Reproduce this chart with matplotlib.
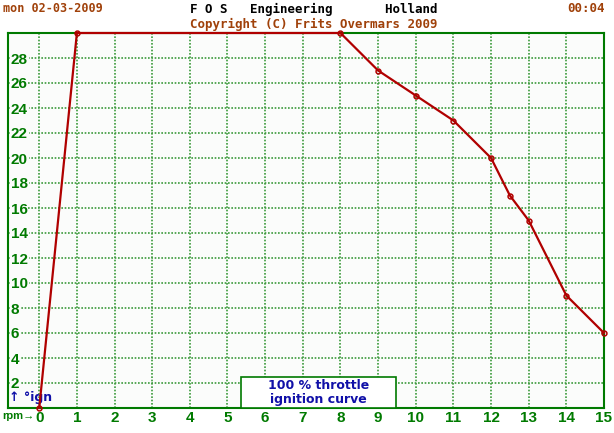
import numpy as np
import matplotlib
matplotlib.use('Agg')
import matplotlib.pyplot as plt
from matplotlib.patches import Rectangle

rpm = [0, 1, 8, 9, 10, 11, 12, 12.5, 13, 14, 15]
ign = [0, 30, 30, 27, 25, 23, 20, 17, 15, 9, 6]
x_ticks = list(range(0, 16))
y_ticks = list(range(2, 30, 2))

green = '#007a00'
grid_green = '#3c9a3c'
red = '#b00000'
brown = '#a0410a'
blue = '#1010a8'

fig = plt.figure(figsize=(6.14, 4.33), dpi=100)
fig.patch.set_facecolor('white')
ax = fig.add_axes([8 / 614, 25 / 433, 596 / 614, 375 / 433])
ax.set_facecolor('#fbfcfb')

ax.set_xlim(-0.83, 15)
ax.set_ylim(0, 30)

ax.set_xticks(x_ticks)
ax.set_yticks(y_ticks)
ax.grid(True, color=grid_green, linestyle=(0, (1, 1)), linewidth=1.2)
ax.set_axisbelow(True)

ax.tick_params(axis='x', length=0, pad=2, colors=green)
ax.tick_params(axis='y', length=0, pad=-2, colors=green)
for lab in ax.get_xticklabels():
    lab.set_fontweight('bold')
    lab.set_fontsize(11)
    lab.set_fontfamily('Liberation Sans')
for lab in ax.get_yticklabels():
    lab.set_horizontalalignment('left')
    lab.set_fontweight('bold')
    lab.set_fontsize(11)
    lab.set_fontfamily('Liberation Sans')
    lab.set_bbox(dict(facecolor='#fbfcfb', edgecolor='none', pad=0.5))

for s in ax.spines.values():
    s.set_color(green)
    s.set_linewidth(1.5)

# curve
ax.plot(rpm, ign, color=red, lw=1.6, marker='o', ms=3.5, mfc='none',
        mew=1.1, clip_on=False, zorder=5)

# info box
ax.add_patch(Rectangle((5.37, 0), 4.1, 2.47, facecolor='white',
                       edgecolor=green, lw=1.2, zorder=3))
ax.text(7.42, 1.25, '100 % throttle\nignition curve', ha='center',
        va='center', color=blue, fontsize=9, fontweight='bold',
        linespacing=1.05, zorder=4)

ax.text(-0.8, 0.8, '↑ °ign', color=blue, fontsize=9, fontweight='bold',
        ha='left', va='center')
fig.text(2 / 614, 1 - 416 / 433, 'rpm→', color=green, fontsize=8,
         fontweight='bold', ha='left', va='center',
         family=['Liberation Sans', 'DejaVu Sans'])

# header
mono = 'DejaVu Sans Mono'
fig.text(3 / 614, 1 - 9 / 433, 'mon 02-03-2009', color=brown, fontsize=8.5,
         fontweight='bold', family=mono, ha='left', va='center')
fig.text(190 / 614, 1 - 9 / 433, 'F O S   Engineering       Holland',
         color='black', fontsize=9, fontweight='bold', family=mono,
         ha='left', va='center')
fig.text(190 / 614, 1 - 24 / 433, 'Copyright (C) Frits Overmars 2009',
         color=brown, fontsize=9, fontweight='bold', family=mono,
         ha='left', va='center')
fig.text(605 / 614, 1 - 9 / 433, '00:04', color=brown, fontsize=9,
         fontweight='bold', family=mono, ha='right', va='center')

fig.savefig('out.png', dpi=100)
